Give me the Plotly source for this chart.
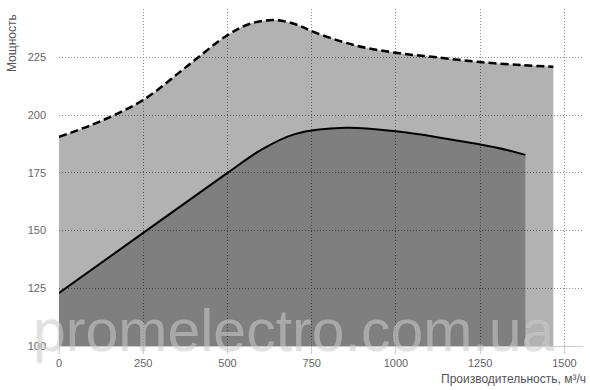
import plotly.graph_objects as go

# Upper (dashed) curve – maximum power
upper_x = [0, 125, 250, 375, 500, 565, 635, 700, 760, 875, 1000, 1125, 1250, 1375, 1467]
upper_y = [190.6, 197.5, 206.6, 220.6, 234.7, 239.5, 241.2, 239.5, 235.8, 230.4, 227.0, 225.0, 223.0, 221.7, 221.0]

# Lower (solid) curve – nominal power
lower_x = [0, 250, 500, 600, 700, 850, 1000, 1150, 1300, 1384]
lower_y = [123.0, 149.0, 175.0, 185.0, 191.8, 194.5, 193.0, 189.8, 185.9, 182.8]

x_ticks = [0, 250, 500, 750, 1000, 1250, 1500]
y_ticks = [100, 125, 150, 175, 200, 225]

x_title = "Производительность, м³/ч"
y_title = "Мощность"
watermark = "promelectro.com.ua"

fig = go.Figure()
fig.add_trace(go.Scatter(
    x=upper_x, y=upper_y, mode="lines", fill="tozeroy",
    fillcolor="rgba(0,0,0,0.30)",
    line=dict(color="black", width=2.5, dash="8px,4px", shape="spline", smoothing=1),
    hoverinfo="skip", showlegend=False,
))
fig.add_trace(go.Scatter(
    x=lower_x, y=lower_y, mode="lines", fill="tozeroy",
    fillcolor="rgba(0,0,0,0.285)",
    line=dict(color="black", width=2, shape="spline", smoothing=1),
    hoverinfo="skip", showlegend=False,
))

tick_font = dict(family="Liberation Sans, Arial, sans-serif", size=11, color="#666666")

fig.update_layout(
    width=590, height=390,
    margin=dict(l=59, r=7, t=9, b=44),
    paper_bgcolor="white", plot_bgcolor="white",
    xaxis=dict(
        range=[0, 1555], tickvals=x_ticks, ticktext=[str(v) for v in x_ticks],
        showgrid=True, gridcolor="#8a8a8a", griddash="1px,2px", gridwidth=1,
        zeroline=False, showline=True, linecolor="#cccccc", linewidth=1,
        ticks="outside", ticklen=7, tickcolor="#cccccc",
        tickfont=tick_font,
    ),
    yaxis=dict(
        range=[100, 246], tickvals=y_ticks, ticktext=[str(v) for v in y_ticks],
        showgrid=True, gridcolor="#8a8a8a", griddash="1px,2px", gridwidth=1,
        zeroline=False, showline=False, ticks="", ticklabelstandoff=12,
        tickfont=tick_font,
    ),
    annotations=[
        dict(text=x_title, xref="paper", yref="paper", x=1, y=0,
             xanchor="right", yanchor="middle", xshift=5, yshift=-33,
             showarrow=False, font=dict(family="Liberation Sans, Arial, sans-serif", size=12, color="#555555")),
        dict(text=y_title, xref="paper", yref="paper", x=-0.0897, y=0.991,
             xanchor="center", yanchor="top", textangle=-90,
             showarrow=False, font=dict(family="Liberation Sans, Arial, sans-serif", size=12, color="#555555")),
        dict(text=watermark, xref="paper", yref="paper", x=0.4485, y=0.045,
             xanchor="center", yanchor="middle", showarrow=False,
             font=dict(family="Liberation Sans, Arial, sans-serif", size=59,
                       color="rgba(255,255,255,0.36)",
                       shadow="0px 0px 1px rgba(110,110,110,0.9)")),
    ],
)

fig.write_html("out.html")
